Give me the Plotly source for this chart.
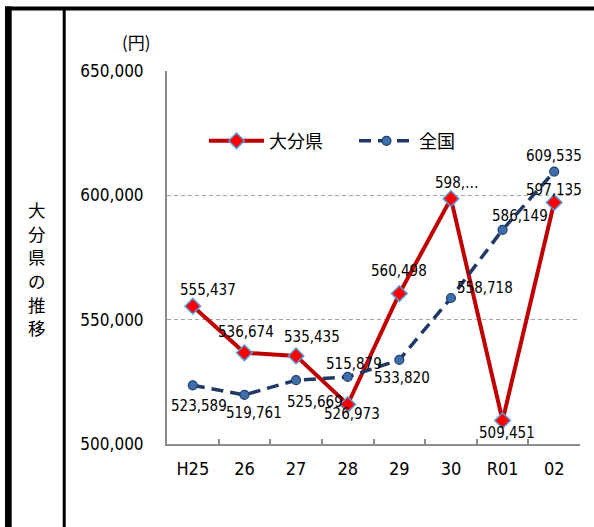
import plotly.graph_objects as go

categories = ["H25", "26", "27", "28", "29", "30", "R01", "02"]
oita_values = [555437, 536674, 535435, 515879, 560498, 598670, 509451, 597135]
national_values = [523589, 519761, 525669, 526973, 533820, 558718, 586149, 609535]
oita_labels = ["555,437", "536,674", "535,435", "515,879", "560,498", "598,…", "509,451", "597,135"]
national_labels = ["523,589", "519,761", "525,669", "526,973", "533,820", "558,718", "586,149", "609,535"]
y_ticks = [500000, 550000, 600000, 650000]
y_tick_labels = ["500,000", "550,000", "600,000", "650,000"]
side_title = "大分県の推移"
unit_label = "(円)"

# label offsets in screen pixels (dx right, dy down)
oita_offsets = [(15, -16), (2, -21), (16, -19), (6, -41), (0, -23), (6, -16), (4, 12), (0, -12)]
national_offsets = [(6, 21), (10, 18), (19, 22), (4, 37), (3, 18), (34, -10), (17, -14), (0, -16)]

NUM_FONT = "DejaVu Sans Condensed, DejaVu Sans, sans-serif"
CJK_FONT = "Noto Sans CJK JP, sans-serif"

fig = go.Figure()
fig.add_trace(go.Scatter(
    x=categories, y=oita_values, name="大分県", mode="lines+markers",
    line=dict(color="#C00000", width=4),
    marker=dict(symbol="diamond", size=12, color="#FF0000",
                line=dict(color="#5B9BD5", width=1.5)),
))
fig.add_trace(go.Scatter(
    x=categories, y=national_values, name="全国", mode="lines+markers",
    line=dict(color="#1F3864", width=3.5, dash="12px,7px"),
    marker=dict(symbol="circle", size=9, color="#3F6FAA",
                line=dict(color="#1F3F6E", width=1.2)),
))

annotations = []
for i, (v, lab, (dx, dy)) in enumerate(zip(oita_values, oita_labels, oita_offsets)):
    annotations.append(dict(x=i, y=v, text=lab, showarrow=False, xshift=dx, yshift=-dy,
                            font=dict(family=NUM_FONT, size=15, color="#000000")))
for i, (v, lab, (dx, dy)) in enumerate(zip(national_values, national_labels, national_offsets)):
    annotations.append(dict(x=i, y=v, text=lab, showarrow=False, xshift=dx, yshift=-dy,
                            font=dict(family=NUM_FONT, size=15, color="#000000")))


def px_x(p):
    return (p - 167) / 413


def px_y(p):
    return (443.6 - p) / 373


# unit label
annotations.append(dict(xref="paper", yref="paper", x=px_x(136), y=px_y(41.5),
                        text=unit_label, showarrow=False, xanchor="center", yanchor="middle",
                        font=dict(family=CJK_FONT, size=17, color="#000000")))
# vertical side title, one character per row
for k, ch in enumerate(side_title):
    annotations.append(dict(xref="paper", yref="paper", x=px_x(36.5), y=px_y(209 + 23.7 * k),
                            text=ch, showarrow=False, xanchor="center", yanchor="middle",
                            font=dict(family=CJK_FONT, size=17.5, color="#000000")))

shapes = [
    dict(type="rect", xref="paper", yref="paper", x0=px_x(5), x1=px_x(11.7), y0=px_y(527), y1=px_y(6),
         fillcolor="#000000", line=dict(width=0), layer="above"),
    dict(type="rect", xref="paper", yref="paper", x0=px_x(5), x1=px_x(594), y0=px_y(10), y1=px_y(6),
         fillcolor="#000000", line=dict(width=0), layer="above"),
    dict(type="rect", xref="paper", yref="paper", x0=px_x(62.7), x1=px_x(65.7), y0=px_y(527), y1=px_y(8),
         fillcolor="#000000", line=dict(width=0), layer="above"),
]

fig.update_layout(
    width=594, height=527,
    margin=dict(l=167, r=14, t=71, b=83, pad=0, autoexpand=False),
    paper_bgcolor="#FFFFFF", plot_bgcolor="#FFFFFF",
    showlegend=True,
    legend=dict(orientation="h", x=px_x(204), y=px_y(140.7), xanchor="left", yanchor="middle",
                font=dict(family=CJK_FONT, size=18, color="#000000"),
                bgcolor="rgba(0,0,0,0)", itemwidth=55, entrywidth=80, entrywidthmode="pixels",
                traceorder="normal"),
    annotations=annotations,
    shapes=shapes,
    xaxis=dict(type="category", categoryorder="array", categoryarray=categories,
               range=[-0.5, len(categories) - 0.5], autorange=False,
               showline=True, linecolor="#8C8C8C", linewidth=2,
               ticks="inside", ticklen=5, tickwidth=1.5, tickcolor="#8C8C8C",
               tickson="boundaries", showgrid=False, zeroline=False, tickangle=0,
               tickfont=dict(family=NUM_FONT, size=18, color="#000000"),
               ticklabelstandoff=7, fixedrange=True),
    yaxis=dict(range=[500000, 650000], tickvals=y_ticks, ticktext=y_tick_labels,
               showline=True, linecolor="#8C8C8C", linewidth=2,
               showgrid=True, gridcolor="#A6A6A6", gridwidth=1.3, griddash="4px,3px",
               zeroline=False, ticks="",
               tickfont=dict(family=NUM_FONT, size=17, color="#000000"),
               ticklabelstandoff=18, fixedrange=True),
)

fig.write_html("out.html", config={"displayModeBar": False},
               post_script="document.body.style.margin='0';document.body.style.overflow='hidden';")
